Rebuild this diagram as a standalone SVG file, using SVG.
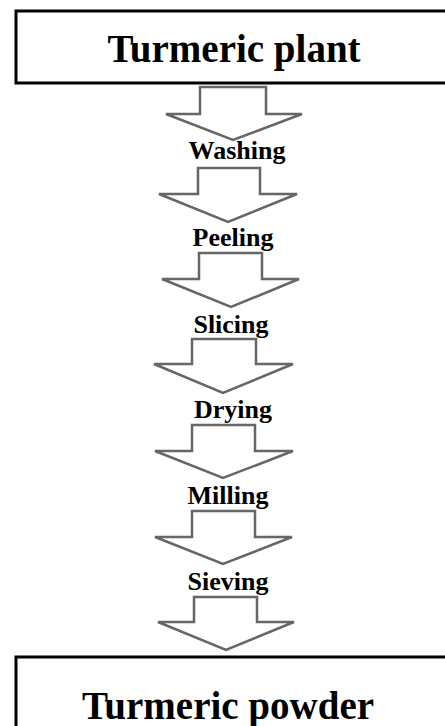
<svg xmlns="http://www.w3.org/2000/svg" width="445" height="726" viewBox="0 0 445 726">
<style>
.box{fill:#fff;stroke:#000;stroke-width:3}
.arr{fill:#fff;stroke:#666;stroke-width:2.5;stroke-linejoin:miter}
.big{font-family:"Liberation Serif","Times New Roman",serif;font-weight:bold;font-size:39px;text-anchor:middle;fill:#000}
.lbl{font-family:"Liberation Serif","Times New Roman",serif;font-weight:bold;font-size:26px;text-anchor:middle;fill:#000}
</style>
<rect width="445" height="726" fill="#fff"/>
<g id="node-plant">
<rect class="box" x="16" y="11" width="440" height="72"/>
<text class="big" x="234" y="62">Turmeric plant</text>
</g>
<g id="connectors">
<polygon class="arr" points="200,87 266,87 266,114 302,114 233,140 166,114 200,114"/>
<polygon class="arr" points="198,168 260,168 260,194 297,194 228,222 159,194 198,194"/>
<polygon class="arr" points="199,253 262,253 262,279 299,279 231,307 162,279 199,279"/>
<polygon class="arr" points="192,339 256,339 256,364 293,364 223,393 154,364 192,364"/>
<polygon class="arr" points="192,425 255,425 255,451 293,451 223,478 155,451 192,451"/>
<polygon class="arr" points="192,511 255,511 255,537 292,537 223,564 155,537 192,537"/>
<polygon class="arr" points="194,597 257,597 257,622 294,622 226,650 158,622 194,622"/>
</g>
<g id="node-washing"><text class="lbl" x="237" y="159">Washing</text></g>
<g id="node-peeling"><text class="lbl" x="233" y="246">Peeling</text></g>
<g id="node-slicing"><text class="lbl" x="231" y="333">Slicing</text></g>
<g id="node-drying"><text class="lbl" x="233" y="418">Drying</text></g>
<g id="node-milling"><text class="lbl" x="228" y="504">Milling</text></g>
<g id="node-sieving"><text class="lbl" x="228" y="590">Sieving</text></g>
<g id="node-powder">
<rect class="box" x="16" y="657" width="440" height="80"/>
<text class="big" x="228" y="719">Turmeric powder</text>
</g>
</svg>
